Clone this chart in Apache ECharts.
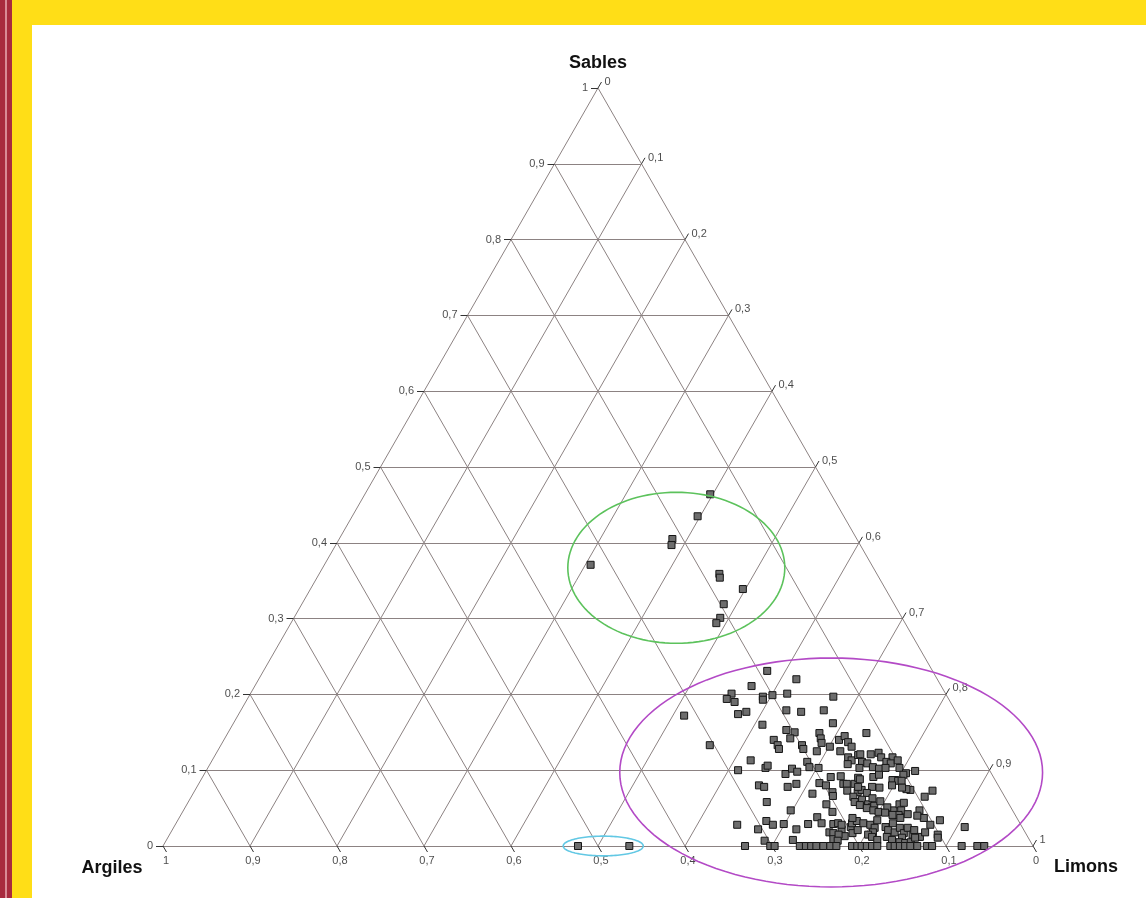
<!DOCTYPE html>
<html><head><meta charset="utf-8">
<script src="https://cdn.jsdelivr.net/npm/echarts@6/dist/echarts.min.js"></script>
<style>
html,body{margin:0;padding:0;width:1146px;height:898px;overflow:hidden;background:#ffde17;}
#red{position:absolute;left:0;top:0;width:12px;height:898px;background:#a82a3e;}
#redline{position:absolute;left:5px;top:0;width:2px;height:898px;background:#d98a96;}
#white{position:absolute;left:32px;top:25px;right:0;bottom:0;background:#ffffff;}
#chart{position:absolute;left:0;top:0;width:1146px;height:898px;}
</style></head><body>
<div id="red"></div><div id="redline"></div><div id="white"></div><div id="chart"></div>
<script>
// Ternary values: [sables, limons]; argiles = 1 - sables - limons
const tickValues = [0, 0.1, 0.2, 0.3, 0.4, 0.5, 0.6, 0.7, 0.8, 0.9, 1];
const tickLabels = ['0', '0,1', '0,2', '0,3', '0,4', '0,5', '0,6', '0,7', '0,8', '0,9', '1'];
const axisNames = ['Sables', 'Argiles', 'Limons'];

const groupVert = [[0.464,0.397],[0.435,0.397],[0.405,0.383],[0.397,0.386],[0.371,0.306],[0.359,0.460],[0.354,0.463],[0.339,0.497],[0.319,0.485],[0.301,0.490],[0.294,0.489]];
const groupCyan = [[0,0.477],[0,0.536]];
const groupMainA = [[0.231,0.579],[0.220,0.618],[0.211,0.571],[0.201,0.553],[0.194,0.551],[0.190,0.562],[0.197,0.591],[0.193,0.593],[0.199,0.601],[0.201,0.617],[0.197,0.672],[0.172,0.513],[0.174,0.574],[0.177,0.582],[0.179,0.627],[0.177,0.645],[0.179,0.670],[0.160,0.609],[0.153,0.640],[0.150,0.651],[0.142,0.650],[0.162,0.689],[0.149,0.680],[0.140,0.632],[0.133,0.640],[0.128,0.644],[0.133,0.562],[0.133,0.668],[0.128,0.672],[0.142,0.685],[0.136,0.689],[0.131,0.701],[0.125,0.689],[0.140,0.707],[0.145,0.711],[0.137,0.719],[0.131,0.726],[0.125,0.716],[0.117,0.729],[0.113,0.735],[0.120,0.739],[0.108,0.733],[0.113,0.619],[0.100,0.611],[0.103,0.641],[0.106,0.642],[0.095,0.668],[0.102,0.672],[0.098,0.680],[0.111,0.685],[0.104,0.691],[0.103,0.702],[0.080,0.645],[0.078,0.652],[0.078,0.679],[0.082,0.687],[0.083,0.713],[0.080,0.722],[0.071,0.734],[0.066,0.737],[0.069,0.712],[0.091,0.722],[0.092,0.733],[0.082,0.741],[0.082,0.745],[0.073,0.750],[0.082,0.754],[0.090,0.754],[0.071,0.763],[0.058,0.665],[0.047,0.698],[0.055,0.735],[0.045,0.747],[0.038,0.733],[0.030,0.742],[0.028,0.646],[0.022,0.673],[0.033,0.677],[0.028,0.687],[0.029,0.699],[0.022,0.717],[0.029,0.727],[0.029,0.756],[0.030,0.761],[0.018,0.757],[0.017,0.762],[0.022,0.769],[0.013,0.777],[0.025,0.778],[0.030,0.777],[0.033,0.781],[0.017,0.784],[0.009,0.766],[0.008,0.720],[0.007,0.688]];
const groupMainB = [[0.149,0.734],[0.121,0.741],[0.121,0.753],[0.123,0.761],[0.117,0.767],[0.117,0.780],[0.111,0.776],[0.109,0.782],[0.113,0.788],[0.103,0.795],[0.111,0.748],[0.109,0.755],[0.103,0.749],[0.104,0.764],[0.102,0.772],[0.103,0.779],[0.096,0.806],[0.094,0.804],[0.099,0.815],[0.087,0.798],[0.087,0.795],[0.086,0.802],[0.086,0.806],[0.074,0.822],[0.075,0.817],[0.065,0.843],[0.073,0.848],[0.088,0.757],[0.091,0.771],[0.078,0.776],[0.077,0.785],[0.074,0.766],[0.070,0.774],[0.061,0.773],[0.055,0.783],[0.051,0.789],[0.053,0.791],[0.059,0.795],[0.047,0.816],[0.055,0.819],[0.047,0.825],[0.041,0.825],[0.047,0.846],[0.037,0.856],[0.040,0.847],[0.034,0.876],[0.025,0.909]];
const groupMainC = [[0.078,0.760],[0.094,0.776],[0.080,0.798],[0.077,0.811],[0.065,0.761],[0.058,0.766],[0.063,0.784],[0.054,0.774],[0.050,0.784],[0.047,0.793],[0.045,0.800],[0.051,0.807],[0.057,0.823],[0.044,0.808],[0.041,0.818],[0.037,0.829],[0.042,0.835],[0.028,0.766],[0.037,0.774],[0.021,0.788],[0.030,0.790],[0.028,0.799],[0.024,0.806],[0.018,0.807],[0.034,0.804],[0.015,0.769],[0.015,0.803],[0.025,0.818],[0.021,0.823],[0.030,0.824],[0.018,0.832],[0.024,0.835],[0.017,0.843],[0.011,0.844],[0.024,0.844],[0.015,0.854],[0.021,0.853],[0.012,0.864],[0.018,0.867],[0.015,0.883],[0.011,0.885],[0.028,0.868],[0.012,0.826],[0.008,0.834],[0.005,0.844],[0.004,0.851],[0.005,0.857],[0.011,0.859],[0.012,0.809],[0.008,0.817],[0.007,0.772]];
const baseLimons = [0.669,0.698,0.703,0.732,0.739,0.745,0.751,0.759,0.767,0.774,0.792,0.798,0.803,0.809,0.815,0.821,0.836,0.841,0.847,0.853,0.859,0.867,0.878,0.884,0.918,0.936,0.944];

// ellipse annotations in ternary-frame coordinates: [X, Y, rx, ry]
const ellipses = [
  {c:[0.590,0.367], r:[0.1247,0.0996], color:'#5cc25c'},
  {c:[0.768,0.097], r:[0.243,0.151], color:'#b34ac6'},
  {c:[0.506,0.0], r:[0.046,0.013], color:'#62c8e4'}
];

function toXY(sand, silt){ return [silt + sand/2, sand]; }

const allPoints = [].concat(groupVert, groupCyan, groupMainA, groupMainB, groupMainC, baseLimons.map(l => [0, l]));
const scatterData = allPoints.map(p => toXY(p[0], p[1]));

// grid lines
const gridLines = [];
for (let i = 0; i < 10; i++) {
  const k = tickValues[i];
  gridLines.push({coords: [[k/2, k], [1 - k/2, k]]});          // sables const
  gridLines.push({coords: [[k, 0], [(1 + k)/2, 1 - k]]});      // limons const
  gridLines.push({coords: [[1 - k, 0], [(1 - k)/2, 1 - k]]});  // argiles const
}
const PX = 870, PY = 758;
const ticks = [];
const leftLab = [], rightLab = [], botLab = [];
tickValues.forEach((k, i) => {
  // sables (left edge)
  const l0 = [k/2, k], l1 = [k/2 - 7/PX, k];
  ticks.push({coords: [l0, l1]});
  leftLab.push({value: l1, name: tickLabels[i]});
  // limons (right edge)
  const r0 = [(1 + k)/2, 1 - k], r1 = [(1 + k)/2 + 3.5/PX, 1 - k + 6/PY];
  ticks.push({coords: [r0, r1]});
  rightLab.push({value: r1, name: tickLabels[i]});
  // argiles (base)
  const b0 = [1 - k, 0], b1 = [1 - k + 3.5/PX, -6/PY];
  ticks.push({coords: [b0, b1]});
  botLab.push({value: [1 - k, 0], name: tickLabels[i]});
});

const FONT = '"Liberation Sans", Arial, sans-serif';
const chart = echarts.init(document.getElementById('chart'), null, {renderer: 'canvas'});
const labelBase = {show: true, formatter: p => p.name, color: '#1a1a1a', fontSize: 11, fontFamily: FONT};
chart.setOption({
  animation: false,
  backgroundColor: 'transparent',
  grid: {left: 163, right: 113, top: 88, bottom: 52},
  xAxis: {type: 'value', min: 0, max: 1, show: false},
  yAxis: {type: 'value', min: 0, max: 1, show: false},
  series: [
    {type: 'lines', coordinateSystem: 'cartesian2d', clip: false, silent: true, z: 1,
     lineStyle: {color: '#8c8282', width: 1, opacity: 1}, data: gridLines},
    {type: 'lines', coordinateSystem: 'cartesian2d', clip: false, silent: true, z: 1,
     lineStyle: {color: '#333', width: 1, opacity: 1}, data: ticks},
    {type: 'scatter', clip: false, symbolSize: 0, silent: true, data: leftLab,
     label: Object.assign({}, labelBase, {position: 'left', distance: 3})},
    {type: 'scatter', clip: false, symbolSize: 0, silent: true, data: rightLab,
     label: Object.assign({}, labelBase, {position: 'right', distance: 3})},
    {type: 'scatter', clip: false, symbolSize: 0, silent: true, data: botLab,
     label: Object.assign({}, labelBase, {position: 'bottom', distance: 9, offset: [3, 0]})},
    {type: 'scatter', clip: false, z: 5, symbol: 'rect', symbolSize: 7,
     itemStyle: {color: '#6d6d6d', borderColor: '#151515', borderWidth: 1, opacity: 1},
     data: scatterData}
  ]
});

const graphics = [
  {type: 'text', style: {x: 598, y: 63, text: axisNames[0], font: 'bold 18px ' + FONT, fill: '#111', textAlign: 'center', textVerticalAlign: 'middle'}},
  {type: 'text', style: {x: 112, y: 868, text: axisNames[1], font: 'bold 18px ' + FONT, fill: '#111', textAlign: 'center', textVerticalAlign: 'middle'}},
  {type: 'text', style: {x: 1086, y: 867, text: axisNames[2], font: 'bold 18px ' + FONT, fill: '#111', textAlign: 'center', textVerticalAlign: 'middle'}}
];
ellipses.forEach(e => {
  const c = chart.convertToPixel({gridIndex: 0}, e.c);
  const o = chart.convertToPixel({gridIndex: 0}, [e.c[0] + e.r[0], e.c[1] + e.r[1]]);
  const rx = Math.abs(o[0] - c[0]), ry = Math.abs(o[1] - c[1]);
  const pts = [];
  for (let i = 0; i < 120; i++) {
    const t = i / 120 * Math.PI * 2;
    pts.push([c[0] + rx * Math.cos(t), c[1] + ry * Math.sin(t)]);
  }
  graphics.push({type: 'polygon', z: 10, silent: true, shape: {points: pts}, style: {fill: 'none', stroke: e.color, lineWidth: 1.6}});
});
chart.setOption({graphic: graphics});
</script>
</body></html>
